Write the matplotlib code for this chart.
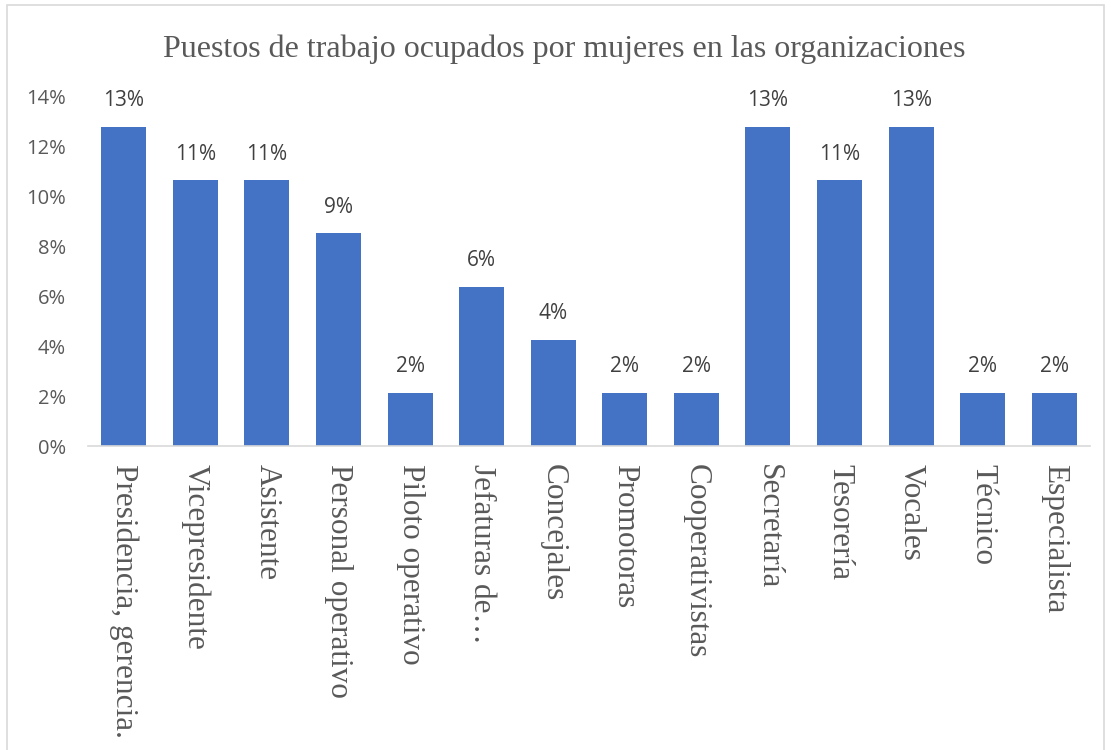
import matplotlib
matplotlib.use("Agg")
import matplotlib.pyplot as plt
from matplotlib.patches import Rectangle
from matplotlib.ticker import FuncFormatter, MultipleLocator

categories = ["Presidencia, gerencia.", "Vicepresidente", "Asistente", "Personal operativo",
              "Piloto operativo", "Jefaturas de…", "Concejales", "Promotoras",
              "Cooperativistas", "Secretaría", "Tesorería", "Vocales", "Técnico", "Especialista"]
values = [0.1277, 0.1064, 0.1064, 0.0851, 0.0213, 0.0638, 0.0426, 0.0213,
          0.0213, 0.1277, 0.1064, 0.1277, 0.0213, 0.0213]
title = "Puestos de trabajo ocupados por mujeres en las organizaciones"

W, H = 1111, 750
fig = plt.figure(figsize=(W / 100, H / 100), dpi=100)
fig.patches.append(Rectangle((7 / W, -0.02), 1097 / W, 1 - 5 / H + 0.02, transform=fig.transFigure,
                             fill=False, edgecolor="#d9d9d9", linewidth=1.2))
ax = fig.add_axes([88 / W, 1 - 446 / H, 1002 / W, 350 / H])

x = list(range(len(categories)))
ax.bar(x, values, width=0.63, color="#4472c4", zorder=2)
ax.set_xlim(-0.5, len(categories) - 0.5)
ax.set_ylim(0, 0.14)
ax.yaxis.set_major_locator(MultipleLocator(0.02))
ax.yaxis.set_major_formatter(FuncFormatter(lambda v, p: f"{round(v * 100)}%"))

for s in ["top", "right", "left"]:
    ax.spines[s].set_visible(False)
ax.spines["bottom"].set_color("#d9d9d9")
ax.spines["bottom"].set_linewidth(1.2)
ax.tick_params(axis="both", length=0)
ax.tick_params(axis="y", labelsize=14.5, labelcolor="#595959", pad=16)
for lab in ax.get_yticklabels():
    lab.set_fontfamily("Open Sans")

ax.set_xticks(x)
ax.set_xticklabels(categories, rotation=-90, fontfamily="Liberation Serif", fontsize=22.5,
                   color="#595959", va="top", ha="center")
ax.tick_params(axis="x", pad=13)

for xi, v in zip(x, values):
    ax.annotate(f"{round(v * 100)}%", (xi, v), xytext=(0, 11), textcoords="offset points",
                ha="center", va="bottom", fontsize=15, color="#404040", fontfamily="Open Sans")

fig.text(564 / W, 1 - 49 / H, title, ha="center", va="center",
         fontfamily="Liberation Serif", fontsize=23, color="#595959")

fig.savefig("out.png", dpi=100)
